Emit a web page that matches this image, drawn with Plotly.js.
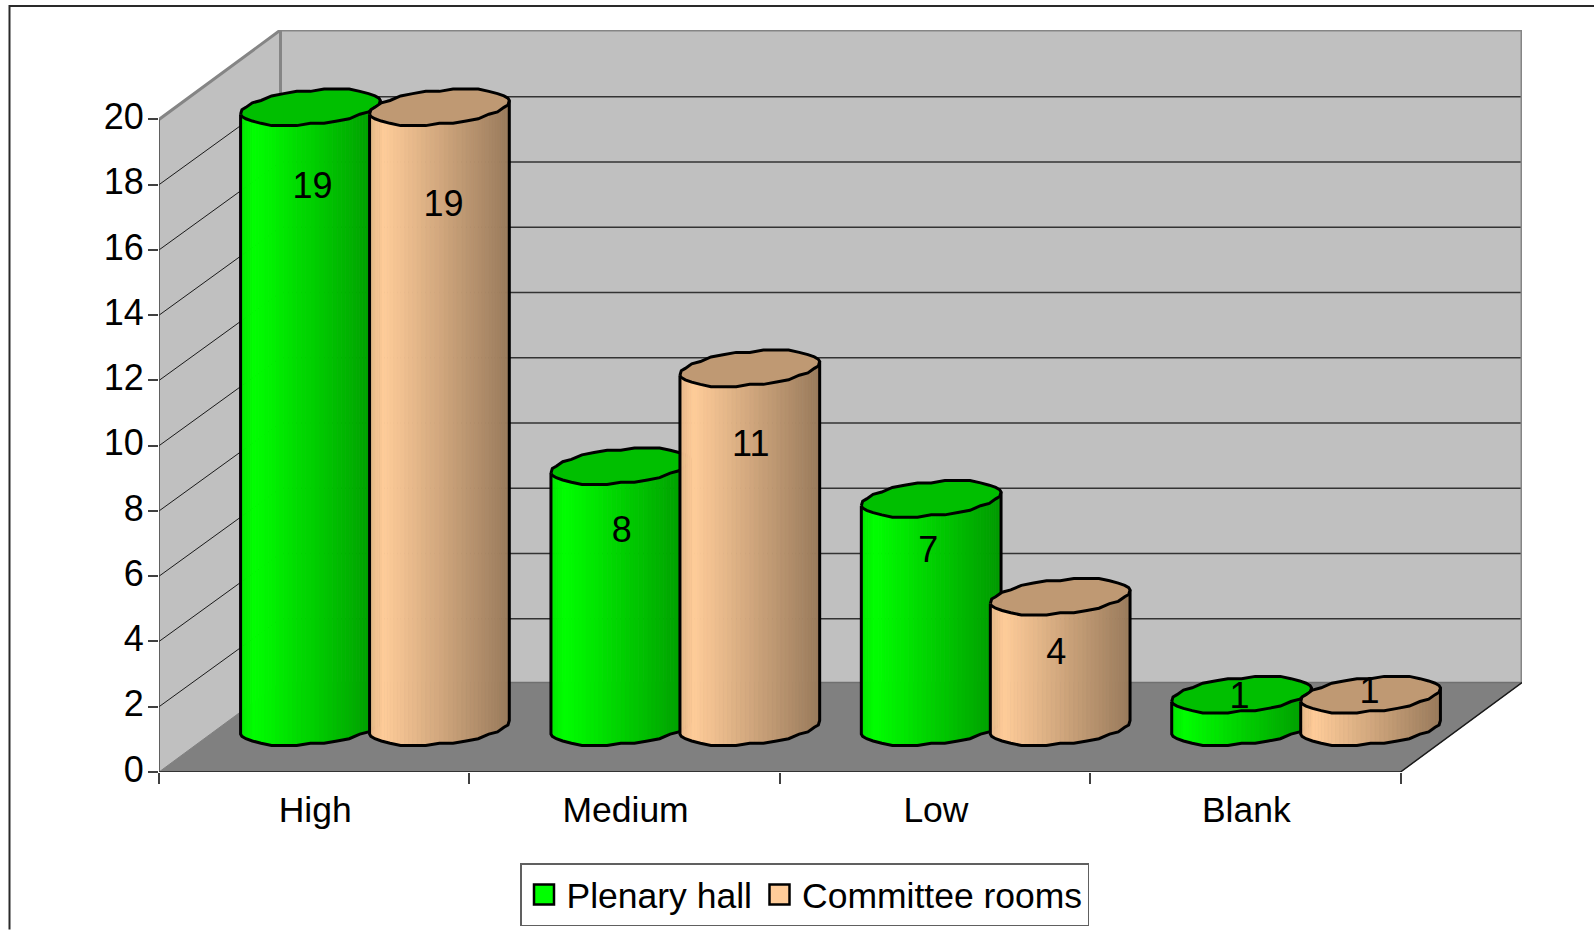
<!DOCTYPE html>
<html>
<head>
<meta charset="utf-8">
<script src="https://cdn.plot.ly/plotly-3.0.1.min.js"></script>
<style>html,body{margin:0;padding:0;background:#fff;overflow:hidden}#chart{width:1594px;height:930px}</style>
</head>
<body>
<div id="chart"></div>
<script>
// ---- values ----
const categories = ["High", "Medium", "Low", "Blank"];
const plenaryHall = [19, 8, 7, 1];
const committeeRooms = [19, 11, 4, 1];
const yTickValues = [0, 2, 4, 6, 8, 10, 12, 14, 16, 18, 20];
const seriesNames = ["Plenary hall", "Committee rooms"];

// ---- label placement, px relative to the top of each cylinder ----
const labelDropPlenary = [82, 67, 54, 4];
const labelDropCommittee = [100, 79, 58, -1];
const labelNudgePlenary = [2, 1, -3, -2];
const labelNudgeCommittee = [4, 1, -4, -1];

// ---- frame geometry (pixels of the page) ----
const W = 1594, H = 930;
const frontLeft = 159, frontRight = 1400.5, backRight = 1522, backTop = 30, frontBottom = 772.5;
const pxPerCat = (frontRight - frontLeft) / categories.length;
const pxPerUnit = 32.65;
const depthX = 121.5 / pxPerCat;   // how far the back wall is shifted right, in categories
const depthY = 89.5 / pxPerUnit;   // how far the back wall is shifted up, in value units
const yMax = 20;
const sideOffset = 64.5 / pxPerCat;
const radiusX = 65.5 / pxPerCat;
const radiusDepth = 0.2;
const FACETS = 16, BANDS = 3, SNAP = 0.07;
const gridSag = 1.5 / pxPerUnit;

const font = "Liberation Sans, Arial, sans-serif";
const FS = 36;
const traces = [];

function poly(xs, ys, fill, line, width) {
  traces.push({
    type: "scatter", mode: "lines", x: xs, y: ys,
    fill: fill ? "toself" : "none", fillcolor: fill || undefined,
    line: {color: line || fill || "rgba(0,0,0,0)", width: width === undefined ? 1 : width, simplify: false},
    hoverinfo: "skip", showlegend: false, cliponaxis: false
  });
}

// walls and floor
const P = (c, d, v) => [c + d * depthX, v + d * depthY];
function face(points, fill, line, w) {
  const pts = points.map(p => P(p[0], p[1], p[2]));
  poly(pts.map(p => p[0]), pts.map(p => p[1]), fill, line, w);
}
const nC = categories.length;
face([[0,1,0],[nC,1,0],[nC,1,yMax],[0,1,yMax],[0,1,0]], "#C0C0C0", "#C0C0C0", 1);
face([[0,0,0],[0,1,0],[0,1,yMax],[0,0,yMax],[0,0,0]], "#C0C0C0", "#C0C0C0", 1);
face([[0,0,0],[nC,0,0],[nC,1,0],[0,1,0],[0,0,0]], "#808080", "#808080", 1);

// gridlines
yTickValues.filter(v => v > 0 && v < yMax).forEach(v => {
  face([[0,0,v],[0,1,v - gridSag]], null, "#1a1a1a", 1);
  face([[0,1,v - gridSag],[nC,1,v - gridSag]], null, "#333333", 1.5);
});
// wall outlines
face([[0,0,yMax],[0,1,yMax],[nC,1,yMax],[nC,1,0]], null, "#858585", 3);
face([[0,1,yMax],[0,1,0]], null, "#858585", 3);
face([[0,1,0],[nC,1,0]], null, "#707070", 1.5);
// front edges
face([[0,0,0],[nC,0,0],[nC,1,0]], null, "#1a1a1a", 1.5);
face([[0,0,0],[0,0,yMax]], null, "#404040", 1.5);

// cylinders
function arcPoint(t) {
  const dx = radiusX * Math.cos(t) + radiusDepth * Math.sin(t) * depthX;
  const dy = radiusDepth * Math.sin(t) * depthY;
  return [dx, Math.round(dy / SNAP) * SNAP];
}
const tipAngle = Math.atan2(radiusDepth * depthX, radiusX);
const arcAngles = [];
for (let i = 0; i <= FACETS; i++) arcAngles.push(Math.PI + tipAngle + Math.PI * i / FACETS);
const halfWidth = Math.hypot(radiusX, radiusDepth * depthX);

function shade(f) {
  return f < 0.1 ? 0.9 + f : 1 - 0.4 * (f - 0.1) / 0.9;
}
function rgb(base, k) {
  return "rgb(" + base.map(c => Math.round(c * k)).join(",") + ")";
}

function cylinder(cat, value, side, base) {
  const cx = cat + 0.5 + side * sideOffset + 0.5 * depthX;
  const cy = 0.5 * depthY;
  const front = arcAngles.map(arcPoint);
  const back = arcAngles.map(t => arcPoint(t + Math.PI));
  for (let i = 0; i < FACETS; i++) {
    const a = front[i], b = front[i + 1];
    for (let j = 0; j < BANDS; j++) {
      const s0 = j / BANDS, s1 = (j + 1) / BANDS;
      const x0 = a[0] + (b[0] - a[0]) * s0, x1 = a[0] + (b[0] - a[0]) * s1;
      const y0 = a[1] + (b[1] - a[1]) * s0, y1 = a[1] + (b[1] - a[1]) * s1;
      const f = ((x0 + x1) / 2 + halfWidth) / (2 * halfWidth);
      const col = rgb(base, shade(f));
      poly([cx + x0, cx + x1, cx + x1, cx + x0, cx + x0],
           [cy + y0, cy + y1, cy + y1 + value, cy + y0 + value, cy + y0], col, col, 0.8);
    }
  }
  const ox = [cx + front[0][0]], oy = [cy + front[0][1] + value];
  front.forEach(p => { ox.push(cx + p[0]); oy.push(cy + p[1]); });
  ox.push(cx + front[FACETS][0]); oy.push(cy + front[FACETS][1] + value);
  poly(ox, oy, null, "#000", 3);
  const ring = front.concat(back.slice(1));
  poly(ring.map(p => cx + p[0]), ring.map(p => cy + p[1] + value), rgb(base, 0.75), "#000", 3);
}
const seriesColors = [[0, 255, 0], [255, 204, 153]];
categories.forEach((_, c) => {
  cylinder(c, plenaryHall[c], -1, seriesColors[0]);
  cylinder(c, committeeRooms[c], 1, seriesColors[1]);
});

// value labels
function labels(values, drops, nudges, side) {
  traces.push({
    type: "scatter", mode: "text",
    x: values.map((_, c) => c + 0.5 + side * sideOffset + 0.5 * depthX + nudges[c] / pxPerCat),
    y: values.map((v, c) => v + 0.5 * depthY - drops[c] / pxPerUnit),
    text: values.map(String), textposition: "middle center",
    textfont: {family: font, size: FS, color: "#000"},
    hoverinfo: "skip", showlegend: false, cliponaxis: false
  });
}
labels(plenaryHall, labelDropPlenary, labelNudgePlenary, -1);
labels(committeeRooms, labelDropCommittee, labelNudgeCommittee, 1);

// legend entries
seriesNames.forEach((name, i) => {
  traces.push({
    type: "scatter", mode: "markers", x: [null], y: [null], name: name,
    marker: {symbol: "square", size: 16, color: rgb(seriesColors[i], 1), line: {color: "#000", width: 2}},
    hoverinfo: "skip", showlegend: true
  });
});

const plotW = backRight - frontLeft, plotH = frontBottom - backTop;
const layout = {
  width: W, height: H, paper_bgcolor: "#fff", plot_bgcolor: "rgba(0,0,0,0)",
  margin: {l: frontLeft, r: W - backRight, t: backTop, b: H - frontBottom, pad: 0, autoexpand: false},
  showlegend: true,
  font: {family: font, size: FS, color: "#000"},
  xaxis: {
    range: [0, plotW / pxPerCat], tickmode: "array",
    tickvals: categories.map((_, i) => i + 0.5), ticktext: categories,
    ticks: "", ticklabelstandoff: 13, ticklabelshift: 1, showgrid: false, zeroline: false, showline: false,
    tickangle: 0, tickfont: {family: font, size: 35.5, color: "#000"},
    minor: {tickmode: "array", tickvals: [0, 1, 2, 3, 4], ticks: "outside", ticklen: 11, tickwidth: 1.5, tickcolor: "#404040", showgrid: false}
  },
  yaxis: {
    range: [0, plotH / pxPerUnit], tickmode: "array", tickvals: yTickValues,
    ticks: "outside", ticklen: 10, tickwidth: 1.5, tickcolor: "#404040",
    ticklabelstandoff: -3, ticklabelshift: -3,
    showgrid: false, zeroline: false, showline: false,
    tickfont: {family: font, size: FS, color: "#000"}
  },
  legend: {
    orientation: "h", x: (520 - frontLeft) / plotW, y: (frontBottom - 864) / plotH,
    xanchor: "left", yanchor: "top", bgcolor: "#fff", bordercolor: "#606060", borderwidth: 1.5,
    font: {family: font, size: 35.5, color: "#000"}, itemwidth: 35, traceorder: "normal",
    itemclick: false, itemdoubleclick: false
  },
  shapes: [{
    type: "path", xref: "paper", yref: "paper",
    path: "M " + ((9.5 - frontLeft) / plotW) + " " + ((frontBottom - H) / plotH) +
          " L " + ((9.5 - frontLeft) / plotW) + " " + ((frontBottom - 6) / plotH) +
          " L " + ((W - frontLeft) / plotW) + " " + ((frontBottom - 6) / plotH),
    line: {color: "#2a2a2a", width: 2}
  }]
};
Plotly.newPlot("chart", traces, layout, {displayModeBar: false}).then(gd => {
  gd.querySelectorAll(".legend .legendpoints path.scatterpts").forEach(p => {
    const t = p.getAttribute("transform") || "";
    p.setAttribute("transform", t + " scale(1.25)");
  });
});
</script>
</body>
</html>
